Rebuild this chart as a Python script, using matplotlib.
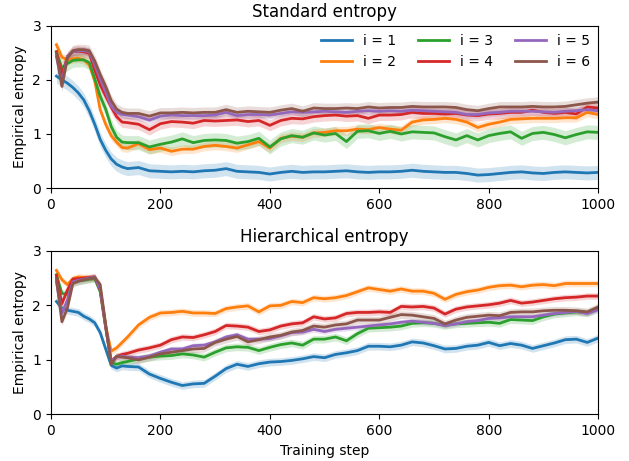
import matplotlib.pyplot as plt

steps = [10, 20, 30, 40, 50, 60, 70, 80, 90, 100, 110, 120, 130, 140,
         160, 180, 200, 220, 240, 260, 280, 300, 320, 340, 360, 380, 400,
         420, 440, 460, 480, 500, 520, 540, 560, 580, 600, 620, 640, 660,
         680, 700, 720, 740, 760, 780, 800, 820, 840, 860, 880, 900, 920,
         940, 960, 980, 1000]

labels = ['i = 1', 'i = 2', 'i = 3', 'i = 4', 'i = 5', 'i = 6']

# standard entropy, mean per setting
std_i1 = [2.07, 2.00, 1.94, 1.86, 1.76, 1.63, 1.43, 1.18, 0.90, 0.70, 0.54, 0.44, 0.39, 0.36,
          0.38, 0.32, 0.31, 0.30, 0.31, 0.30, 0.32, 0.33, 0.36, 0.31, 0.30, 0.29, 0.26,
          0.29, 0.31, 0.29, 0.30, 0.30, 0.31, 0.32, 0.30, 0.29, 0.30, 0.30, 0.31, 0.33,
          0.31, 0.30, 0.29, 0.29, 0.27, 0.24, 0.25, 0.27, 0.29, 0.30, 0.28, 0.27, 0.29,
          0.30, 0.29, 0.28, 0.29]
std_i2 = [2.65, 2.42, 2.37, 2.39, 2.40, 2.37, 2.28, 1.98, 1.45, 1.18, 0.97, 0.85, 0.75, 0.74,
          0.82, 0.71, 0.74, 0.68, 0.72, 0.72, 0.77, 0.79, 0.77, 0.74, 0.80, 0.86, 0.74,
          0.92, 0.96, 0.94, 1.02, 1.03, 1.06, 1.06, 1.09, 1.08, 1.12, 1.09, 1.07, 1.22,
          1.26, 1.27, 1.29, 1.27, 1.22, 1.12, 1.18, 1.22, 1.27, 1.28, 1.29, 1.29, 1.29,
          1.30, 1.30, 1.40, 1.36]
std_i3 = [2.52, 2.22, 2.30, 2.36, 2.37, 2.37, 2.32, 2.02, 1.70, 1.46, 1.14, 0.94, 0.85, 0.84,
          0.84, 0.76, 0.81, 0.85, 0.91, 0.84, 0.88, 0.89, 0.88, 0.83, 0.86, 0.92, 0.76,
          0.91, 0.97, 0.94, 1.02, 0.98, 1.01, 0.86, 1.05, 1.06, 1.01, 1.05, 1.00, 1.04,
          1.03, 1.02, 0.95, 0.89, 0.97, 0.89, 0.97, 1.01, 1.04, 0.92, 1.01, 1.03, 0.99,
          0.93, 0.99, 1.04, 1.03]
std_i4 = [2.52, 2.09, 2.43, 2.52, 2.53, 2.52, 2.49, 2.18, 1.91, 1.70, 1.50, 1.32, 1.22, 1.21,
          1.18, 1.08, 1.19, 1.23, 1.22, 1.20, 1.25, 1.24, 1.25, 1.26, 1.23, 1.25, 1.16,
          1.25, 1.29, 1.28, 1.32, 1.34, 1.35, 1.33, 1.34, 1.29, 1.35, 1.35, 1.36, 1.40,
          1.38, 1.38, 1.37, 1.38, 1.35, 1.34, 1.37, 1.38, 1.40, 1.40, 1.44, 1.40, 1.38,
          1.40, 1.37, 1.50, 1.48]
std_i5 = [2.43, 1.94, 2.44, 2.52, 2.54, 2.54, 2.52, 2.28, 2.02, 1.78, 1.52, 1.40, 1.36, 1.35,
          1.32, 1.26, 1.33, 1.35, 1.34, 1.34, 1.34, 1.35, 1.40, 1.34, 1.36, 1.36, 1.35,
          1.38, 1.41, 1.40, 1.41, 1.42, 1.41, 1.40, 1.42, 1.43, 1.42, 1.43, 1.42, 1.44,
          1.43, 1.42, 1.41, 1.40, 1.36, 1.36, 1.39, 1.40, 1.42, 1.42, 1.42, 1.41, 1.40,
          1.42, 1.43, 1.45, 1.43]
std_i6 = [2.49, 1.88, 2.40, 2.54, 2.56, 2.56, 2.54, 2.35, 2.10, 1.88, 1.62, 1.46, 1.40, 1.38,
          1.38, 1.33, 1.39, 1.39, 1.40, 1.39, 1.40, 1.40, 1.45, 1.40, 1.42, 1.41, 1.40,
          1.44, 1.47, 1.42, 1.48, 1.47, 1.47, 1.48, 1.47, 1.50, 1.48, 1.49, 1.49, 1.51,
          1.50, 1.50, 1.50, 1.49, 1.45, 1.43, 1.47, 1.50, 1.50, 1.50, 1.51, 1.50, 1.50,
          1.51, 1.54, 1.57, 1.59]

# hierarchical entropy, mean per setting
hier_i1 = [2.07, 1.95, 1.91, 1.89, 1.87, 1.80, 1.75, 1.68, 1.50, 1.20, 0.90, 0.85, 0.89, 0.88,
           0.87, 0.74, 0.66, 0.59, 0.53, 0.56, 0.57, 0.70, 0.84, 0.92, 0.88, 0.93, 0.96,
           0.97, 0.99, 1.02, 1.06, 1.04, 1.10, 1.13, 1.17, 1.25, 1.25, 1.24, 1.27, 1.33,
           1.31, 1.26, 1.20, 1.21, 1.25, 1.27, 1.32, 1.26, 1.30, 1.27, 1.21, 1.26, 1.31,
           1.37, 1.38, 1.32, 1.40]
hier_i2 = [2.64, 2.47, 2.38, 2.49, 2.52, 2.51, 2.51, 2.50, 2.30, 1.63, 1.16, 1.22, 1.32, 1.42,
           1.64, 1.78, 1.86, 1.87, 1.89, 1.86, 1.86, 1.85, 1.94, 1.97, 1.99, 1.88, 1.99,
           2.00, 2.07, 2.05, 2.14, 2.12, 2.14, 2.18, 2.25, 2.32, 2.29, 2.26, 2.30, 2.26,
           2.26, 2.22, 2.11, 2.20, 2.25, 2.28, 2.33, 2.36, 2.37, 2.34, 2.37, 2.38, 2.36,
           2.40, 2.40, 2.40, 2.40]
hier_i3 = [2.56, 2.22, 2.20, 2.43, 2.45, 2.46, 2.48, 2.49, 2.25, 1.60, 0.95, 0.92, 0.95, 0.97,
           1.02, 1.05, 1.07, 1.08, 1.11, 1.09, 1.05, 1.14, 1.22, 1.24, 1.23, 1.17, 1.23,
           1.28, 1.31, 1.27, 1.38, 1.38, 1.42, 1.35, 1.48, 1.58, 1.59, 1.60, 1.62, 1.67,
           1.68, 1.67, 1.63, 1.66, 1.67, 1.68, 1.69, 1.67, 1.74, 1.73, 1.72, 1.79, 1.84,
           1.86, 1.88, 1.86, 1.94]
hier_i4 = [2.55, 2.03, 2.28, 2.48, 2.49, 2.50, 2.51, 2.52, 2.28, 1.60, 0.98, 1.06, 1.10, 1.12,
           1.18, 1.22, 1.27, 1.37, 1.42, 1.41, 1.46, 1.52, 1.63, 1.62, 1.60, 1.52, 1.55,
           1.62, 1.66, 1.68, 1.79, 1.75, 1.77, 1.85, 1.87, 1.87, 1.88, 1.87, 1.98, 1.97,
           1.98, 1.95, 1.84, 1.93, 1.97, 1.99, 2.01, 2.04, 2.09, 2.04, 2.06, 2.09, 2.12,
           2.14, 2.15, 2.17, 2.17]
hier_i5 = [2.43, 1.85, 2.10, 2.43, 2.46, 2.48, 2.50, 2.52, 2.30, 1.62, 0.98, 1.05, 1.07, 1.05,
           1.04, 1.07, 1.14, 1.20, 1.20, 1.26, 1.27, 1.33, 1.42, 1.46, 1.38, 1.38, 1.39,
           1.44, 1.50, 1.51, 1.56, 1.52, 1.56, 1.58, 1.60, 1.62, 1.64, 1.66, 1.69, 1.71,
           1.69, 1.67, 1.63, 1.66, 1.70, 1.72, 1.76, 1.77, 1.79, 1.79, 1.79, 1.82, 1.85,
           1.87, 1.89, 1.85, 1.92]
hier_i6 = [2.49, 1.70, 1.95, 2.40, 2.44, 2.47, 2.49, 2.51, 2.38, 1.65, 0.92, 1.07, 1.05, 1.04,
           1.00, 1.05, 1.11, 1.14, 1.17, 1.20, 1.21, 1.32, 1.38, 1.43, 1.33, 1.37, 1.42,
           1.45, 1.51, 1.54, 1.62, 1.60, 1.64, 1.66, 1.73, 1.73, 1.73, 1.78, 1.83, 1.82,
           1.79, 1.76, 1.66, 1.73, 1.78, 1.80, 1.82, 1.81, 1.87, 1.88, 1.88, 1.90, 1.91,
           1.91, 1.90, 1.88, 1.97]

# spread of the shaded band, one value per setting
std_spread = [0.13, 0.08, 0.13, 0.10, 0.07, 0.10]
hier_spread = [0.07, 0.06, 0.07, 0.06, 0.05, 0.07]

std_means = [std_i1, std_i2, std_i3, std_i4, std_i5, std_i6]
hier_means = [hier_i1, hier_i2, hier_i3, hier_i4, hier_i5, hier_i6]

colors = ['#1f77b4', '#ff7f0e', '#2ca02c', '#d62728', '#9467bd', '#8c564b']


def draw_panel(ax, means, spreads, title):
    for mean, spread, color, label in zip(means, spreads, colors, labels):
        low = [m - spread for m in mean]
        high = [m + spread for m in mean]
        ax.fill_between(steps, low, high, color=color, alpha=0.2, linewidth=0)
        ax.plot(steps, mean, color=color, linewidth=2, label=label)
    ax.set_xlim(0, 1000)
    ax.set_ylim(0, 3)
    ax.set_yticks([0, 1, 2, 3])
    ax.set_ylabel('Empirical entropy', fontsize=10)
    ax.set_title(title, fontsize=12)
    ax.tick_params(labelsize=10)


fig = plt.figure(figsize=(6.29, 4.61), dpi=100)
ax1 = fig.add_axes([0.081, 0.592, 0.870, 0.352])
ax2 = fig.add_axes([0.081, 0.101, 0.870, 0.355])

draw_panel(ax1, std_means, std_spread, 'Standard entropy')
draw_panel(ax2, hier_means, hier_spread, 'Hierarchical entropy')
ax2.set_xlabel('Training step', fontsize=10)

ax1.legend(loc='upper right', ncol=3, frameon=False, fontsize=10,
           handlelength=2.2, columnspacing=1.6, borderaxespad=0.2)

fig.savefig('out.png', dpi=100)
